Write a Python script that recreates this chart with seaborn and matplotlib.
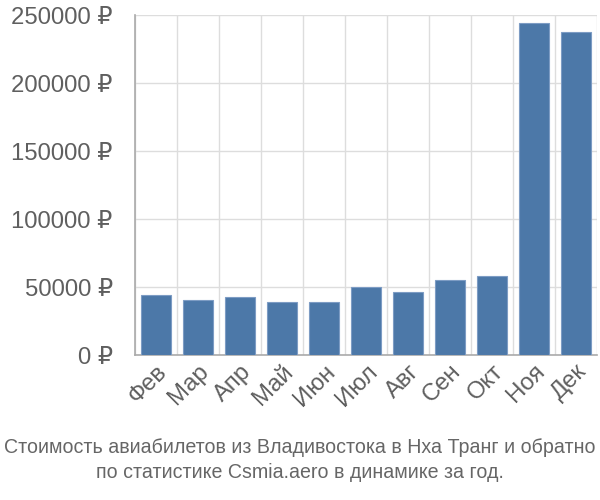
import matplotlib
matplotlib.use("Agg")
import matplotlib.pyplot as plt
import seaborn as sns
import pandas as pd
import numpy as np
from matplotlib.ticker import FixedLocator, FuncFormatter

months = ["Фев", "Мар", "Апр", "Май", "Июн", "Июл", "Авг", "Сен", "Окт", "Ноя", "Дек"]
prices = [44400, 40800, 43000, 39000, 38800, 50000, 46600, 54900, 57800, 244300, 237200]
yticks = [0, 50000, 100000, 150000, 200000, 250000]
title_lines = ["Стоимость авиабилетов из Владивостока в Нха Транг и обратно",
               "по статистике Csmia.aero в динамике за год."]

sns.set_style("white")
plt.rcParams['font.family'] = ['Liberation Sans', 'DejaVu Sans']

df = pd.DataFrame({"month": months, "price": prices})

fig = plt.figure(figsize=(6, 5), dpi=100)
ax = fig.add_axes([0.225, 0.29, 0.77, 0.68])

sns.barplot(data=df, x="month", y="price", color="#4C78A8", saturation=1,
            width=0.72, edgecolor="#7d9cc4", linewidth=0.8, ax=ax, zorder=3)

ax.set_xlim(-0.5, len(months) - 0.5)
ax.set_ylim(0, 250000)
ax.set_xlabel("")
ax.set_ylabel("")

ax.yaxis.set_major_locator(FixedLocator(yticks))
ax.yaxis.set_major_formatter(FuncFormatter(lambda v, p: f"{int(v)} ₽"))
ax.grid(axis="y", color="#dddddd", linewidth=1, zorder=0)

ax.set_xticks(np.arange(-0.5, len(months), 1.0), minor=True)
ax.grid(axis="x", which="minor", color="#dddddd", linewidth=1, zorder=0)
ax.tick_params(axis="x", which="major", length=0, pad=4)
ax.tick_params(axis="x", which="minor", length=12, color="#dddddd", width=1)
ax.tick_params(axis="y", length=14, color="#aaaaaa", width=1, pad=2)

for lbl in ax.get_xticklabels():
    lbl.set_rotation(45)
    lbl.set_ha("right")
    lbl.set_rotation_mode("anchor")
ax.tick_params(axis="both", labelsize=17.2, labelcolor="#5f5f5f")

for s in ["top", "right"]:
    ax.spines[s].set_visible(False)
for s in ["left", "bottom"]:
    ax.spines[s].set_color("#aaaaaa")
    ax.spines[s].set_linewidth(1.2)

fig.text(0.5, 0.08, "\n".join(title_lines), ha="center", va="center",
         fontsize=14.1, color="#666666", linespacing=1.4,
         family=['Liberation Sans Narrow', 'Liberation Sans', 'DejaVu Sans'])

fig.savefig("out.png", dpi=100)
